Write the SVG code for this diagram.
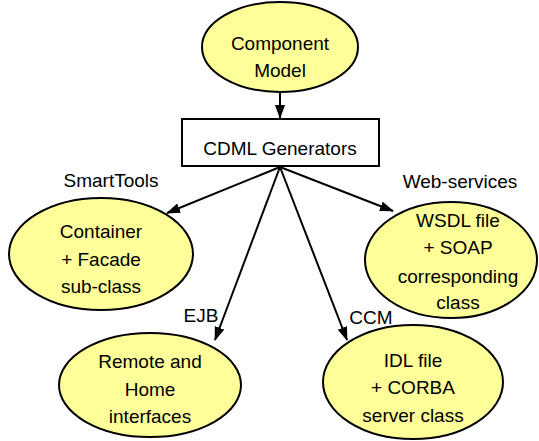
<svg xmlns="http://www.w3.org/2000/svg" width="539" height="441" viewBox="0 0 539 441">
<defs>
<marker id="ah" markerWidth="14" markerHeight="10" refX="13" refY="5" orient="auto" markerUnits="userSpaceOnUse">
<path d="M0,0 L14,5 L0,10 Z" fill="#000"/>
</marker>
<style>
.n{fill:#ffff99;stroke:#000;stroke-width:2}
.b{fill:#fff;stroke:#000;stroke-width:2}
text{font-family:"Liberation Sans",Arial,sans-serif;font-size:19px;fill:#000;text-anchor:middle}
.c{fill:none;stroke:#000;stroke-width:2;marker-end:url(#ah)}
</style>
</defs>
<rect width="539" height="441" fill="#fff"/>
<g id="connectors">
<line class="c" x1="280" y1="92" x2="280" y2="118"/>
<line class="c" x1="280" y1="167" x2="167" y2="213"/>
<line class="c" x1="280" y1="167" x2="215" y2="340"/>
<line class="c" x1="280" y1="167" x2="393" y2="211"/>
<line class="c" x1="280" y1="167" x2="347" y2="340"/>
</g>
<g id="component-model">
<ellipse class="n" cx="280" cy="47" rx="78" ry="45"/>
<text x="280" y="50">Component</text>
<text x="280" y="77">Model</text>
</g>
<g id="cdml-generators">
<rect class="b" x="182" y="119" width="197" height="47"/>
<text x="280" y="155">CDML Generators</text>
</g>
<g id="container">
<text x="111" y="187">SmartTools</text>
<ellipse class="n" cx="101" cy="254" rx="92" ry="56"/>
<text x="101" y="238">Container</text>
<text x="101" y="266">+ Facade</text>
<text x="101" y="293">sub-class</text>
</g>
<g id="ejb">
<text x="201" y="322">EJB</text>
<ellipse class="n" cx="150" cy="385" rx="91" ry="52"/>
<text x="150" y="368">Remote and</text>
<text x="150" y="396">Home</text>
<text x="150" y="423">interfaces</text>
</g>
<g id="web-services">
<text x="460" y="188">Web-services</text>
<ellipse class="n" cx="451" cy="260" rx="86" ry="58"/>
<text x="458" y="227">WSDL file</text>
<text x="458" y="254">+ SOAP</text>
<text x="458" y="283">corresponding</text>
<text x="458" y="309">class</text>
</g>
<g id="ccm">
<text x="371" y="324">CCM</text>
<ellipse class="n" cx="413" cy="382" rx="90" ry="57"/>
<text x="413" y="367">IDL file</text>
<text x="413" y="394">+ CORBA</text>
<text x="413" y="422">server class</text>
</g>
</svg>
